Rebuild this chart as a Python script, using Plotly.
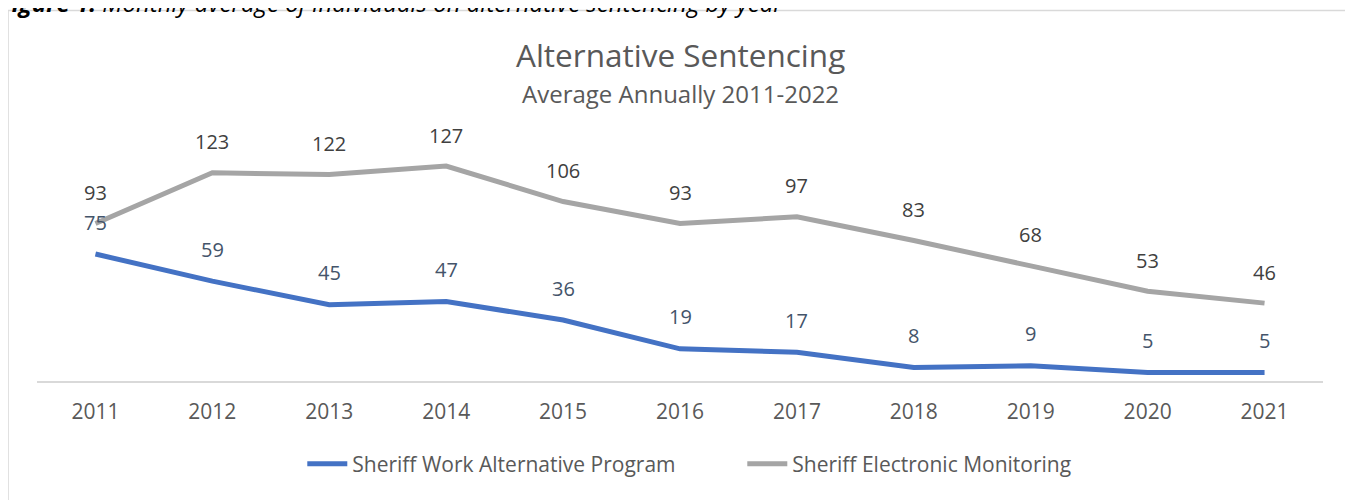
import plotly.graph_objects as go

years = ["2011", "2012", "2013", "2014", "2015", "2016", "2017", "2018", "2019", "2020", "2021"]
work_program = [75, 59, 45, 47, 36, 19, 17, 8, 9, 5, 5]
electronic_monitoring = [93, 123, 122, 127, 106, 93, 97, 83, 68, 53, 46]

series_names = ["Sheriff Work Alternative Program", "Sheriff Electronic Monitoring"]
title_text = "Alternative Sentencing"
subtitle_text = "Average Annually 2011-2022"
caption_bold = "Figure 1:"
caption_rest = " Monthly average of individuals on alternative sentencing by year"

# page has an 8px body margin; figure positions are page positions minus 8
OFF = 8
W, H = 1345, 492
L, R, T, B = 28.5, 29.5, 136, 119
PW, PH = W - L - R, H - T - B

def px_y(y):
    # y is page pixel
    return (H - B - (y - OFF)) / PH

def px_x(x):
    return ((x - OFF) - L) / PW

FONT = "Open Sans"
BLUE = "#4472C4"
GRAY = "#A5A5A5"

fig = go.Figure()
fig.add_trace(go.Scatter(x=years, y=work_program, mode="lines", name=series_names[0],
                         line=dict(color=BLUE, width=5)))
fig.add_trace(go.Scatter(x=years, y=electronic_monitoring, mode="lines", name=series_names[1],
                         line=dict(color=GRAY, width=5)))

annotations = []
for i, v in enumerate(work_program):
    annotations.append(dict(x=i, y=v, xref="x", yref="y", text=str(v), showarrow=False,
                            yshift=32, font=dict(family=FONT, size=20, color="#44546A")))
for i, v in enumerate(electronic_monitoring):
    annotations.append(dict(x=i, y=v, xref="x", yref="y", text=str(v), showarrow=False,
                            yshift=31, font=dict(family=FONT, size=20, color="#404040")))

annotations.append(dict(x=0.5, y=px_y(55), xref="paper", yref="paper", text=title_text,
                        showarrow=False, yanchor="middle",
                        font=dict(family=FONT, size=31.5, color="#595959")))
annotations.append(dict(x=0.5, y=px_y(94), xref="paper", yref="paper", text=subtitle_text,
                        showarrow=False, yanchor="middle",
                        font=dict(family=FONT, size=24, color="#595959")))
annotations.append(dict(x=px_x(-4), y=px_y(2), xref="paper", yref="paper",
                        text="<b><i>" + caption_bold + "</i></b><i>" + caption_rest + "</i>",
                        showarrow=False, xanchor="left", yanchor="middle",
                        font=dict(family=FONT, size=24, color="#000000")))

fig.update_layout(
    width=W, height=H,
    margin=dict(l=L, r=R, t=T, b=B, pad=0),
    paper_bgcolor="white", plot_bgcolor="white",
    showlegend=True,
    legend=dict(orientation="h", x=px_x(302), xanchor="left", y=px_y(464), yanchor="middle",
                font=dict(family=FONT, size=21, color="#595959"), itemwidth=40,
                entrywidth=385, entrywidthmode="pixels"),
    xaxis=dict(type="category", range=[-0.5, len(years) - 0.5], autorange=False,
               showgrid=False, showline=True, linecolor="#D9D9D9", linewidth=1.5,
               ticks="", tickfont=dict(family=FONT, size=21, color="#595959"), ticklabelstandoff=11,
               zeroline=False),
    yaxis=dict(range=[0, 140], autorange=False, visible=False, showgrid=False, zeroline=False),
    annotations=annotations,
    shapes=[dict(type="rect", xref="paper", yref="paper", x0=px_x(7.5), x1=px_x(1350.5),
                 y0=px_y(10.5), y1=px_y(520), line=dict(color="#D9D9D9", width=1.5),
                 fillcolor="rgba(0,0,0,0)", layer="below")],
)

fig.write_html("out.html")
